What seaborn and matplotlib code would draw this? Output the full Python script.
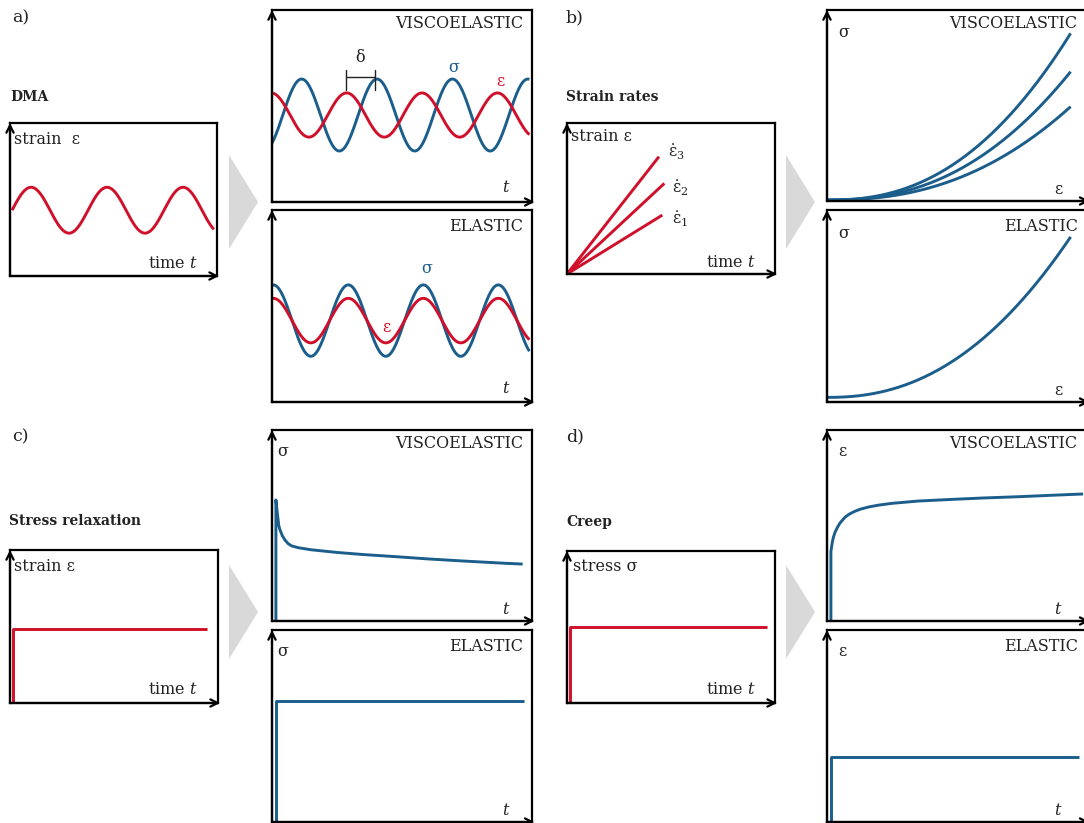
import numpy as np
import pandas as pd
import matplotlib
matplotlib.use("Agg")
import matplotlib.pyplot as plt
import seaborn as sns

sns.set_theme(style="white")
plt.rcParams['font.family'] = ['DejaVu Serif', 'DejaVu Sans']
plt.rcParams['mathtext.fontset'] = 'dejavuserif'

RED = '#d0102a'
BLUE = '#1b5e8c'
GRAY = '#d9d9d9'
W, H = 1084, 823

# ---------------- data (normalised 0..1 inside each box) ----------------
# a) DMA input strain (sinusoid)
dma_in_center, dma_in_amp, dma_in_period, dma_in_start, dma_in_end = 0.43, 0.15, 0.367, 0.01, 0.985
# a) viscoelastic response: [center, amplitude, period, first peak]
visco_sigma = [0.453, 0.1875, 0.29, 0.114]
visco_eps = [0.453, 0.115, 0.29, 0.287]
# a) elastic response (in phase)
elastic_sigma = [0.424, 0.186, 0.2885, 0.005]
elastic_eps = [0.424, 0.116, 0.2885, 0.005]
sine_x_end = 0.99

# b) strain rate lines: end points
rate_labels = ['1', '2', '3']
rate_x_end = [0.458, 0.468, 0.442]
rate_y_end = [0.39, 0.60, 0.777]
# b) stress-strain curves: end heights and curvature exponent
ss_visco_end = [0.494, 0.677, 0.878]
ss_elastic_end = [0.86]
ss_x_end = 0.937
ss_y_start = [0.005, 0.024]
ss_exponent = 2.35

# c) stress relaxation
relax_step_x = [0.013, 0.013, 0.946]
relax_step_y = [0.0, 0.484, 0.484]
relax_visco_x = [0.015, 0.015, 0.02, 0.026, 0.031, 0.04, 0.05, 0.062, 0.076, 0.1, 0.15, 0.25,
                 0.35, 0.485, 0.6, 0.75, 0.9, 0.964]
relax_visco_y = [0.0, 0.634, 0.57, 0.5, 0.476, 0.446, 0.424, 0.405, 0.393, 0.384, 0.373, 0.359,
                 0.348, 0.336, 0.325, 0.313, 0.302, 0.298]
relax_elastic_x = [0.015, 0.015, 0.969]
relax_elastic_y = [0.0, 0.63, 0.63]

# d) creep
creep_step_x = [0.015, 0.015, 0.96]
creep_step_y = [0.0, 0.498, 0.498]
creep_visco_x = [0.015, 0.015, 0.02, 0.025, 0.031, 0.04, 0.05, 0.069, 0.085, 0.105, 0.127, 0.16,
                 0.2, 0.25, 0.35, 0.485, 0.6, 0.742, 0.86, 0.985]
creep_visco_y = [0.0, 0.363, 0.41, 0.44, 0.465, 0.49, 0.513, 0.543, 0.559, 0.573, 0.585, 0.597,
                 0.607, 0.616, 0.628, 0.637, 0.644, 0.651, 0.658, 0.665]
creep_elastic_x = [0.015, 0.015, 0.97]
creep_elastic_y = [0.0, 0.34, 0.34]

# ---------------- helpers ----------------
fig = plt.figure(figsize=(W / 100, H / 100), dpi=100)


def box(l, t, r, b):
    ax = fig.add_axes([l / W, 1 - b / H, (r - l) / W, (b - t) / H])
    ax.set_facecolor('none')
    for s in ax.spines.values():
        s.set_visible(True)
        s.set_color('black')
        s.set_linewidth(1.6)
    ax.set_xticks([])
    ax.set_yticks([])
    ax.annotate('', xy=(0, 1.0), xytext=(0, 0.0), xycoords='axes fraction',
                arrowprops=dict(arrowstyle='->', lw=1.6, color='black', mutation_scale=13,
                                shrinkA=0, shrinkB=0), annotation_clip=False)
    ax.annotate('', xy=(1.01, 0), xytext=(0, 0), xycoords='axes fraction',
                arrowprops=dict(arrowstyle='->', lw=1.6, color='black', mutation_scale=13,
                                shrinkA=0, shrinkB=0), annotation_clip=False)
    return ax


def finish(ax):
    ax.set_xlim(0, 1)
    ax.set_ylim(0, 1)
    ax.set_xlabel('')
    ax.set_ylabel('')
    leg = ax.get_legend()
    if leg is not None:
        leg.remove()


def line(ax, x, y, color, lw=2.1):
    df = pd.DataFrame({'x': x, 'y': y})
    sns.lineplot(data=df, x='x', y='y', sort=False, estimator=None, color=color,
                 lw=lw, ax=ax, solid_capstyle='butt', solid_joinstyle='round')


def sine(params, x0, x1):
    c, a, p, ph = params
    x = np.linspace(x0, x1, 400)
    return x, c + a * np.cos(2 * np.pi * (x - ph) / p)


def arrow_tri(l, t, r, b):
    ax = fig.add_axes([l / W, 1 - b / H, (r - l) / W, (b - t) / H])
    ax.fill([0, 1, 0], [0, 0.5, 1], color=GRAY, lw=0)
    ax.set_xlim(0, 1)
    ax.set_ylim(0, 1)
    ax.axis('off')


def label(ax, x, y, s, color='#222222', ha='left', size=11.5, **kw):
    ax.text(x, y, s, transform=ax.transAxes, ha=ha, va='center', color=color,
            fontsize=size, **kw)


TS = 11.5
# ---------------- panel labels and titles ----------------
for s, x, y in [('a)', 12, 18), ('b)', 566, 18), ('c)', 12, 437), ('d)', 566, 437)]:
    fig.text(x / W, 1 - y / H, s, fontsize=12.5, va='center', ha='left', color='#222222')
for s, x, y in [('DMA', 10, 97), ('Strain rates', 566, 97), ('Stress relaxation', 9, 521), ('Creep', 566, 522)]:
    fig.text(x / W, 1 - y / H, s, fontsize=10, fontweight='bold', va='center', ha='left',
             color='#222222')

# ---------------- a) DMA ----------------
ax = box(10, 123, 217, 276)
xa = np.linspace(dma_in_start, dma_in_end, 400)
line(ax, xa, dma_in_center + dma_in_amp * np.sin(2 * np.pi * (xa - dma_in_start) / dma_in_period), RED)
finish(ax)
label(ax, 0.02, 0.889, 'strain  ε', size=TS)
label(ax, 0.905, 0.083, 'time $t$', ha='right', size=TS)

ax = box(272, 10, 532, 202)
x, y = sine(visco_sigma, 0.0, sine_x_end)
line(ax, x, y, BLUE)
x, y = sine(visco_eps, 0.0, sine_x_end)
line(ax, x, y, RED)
finish(ax)
ax.plot([0.283, 0.396], [0.653, 0.653], color='#222222', lw=1.0)
ax.plot([0.283, 0.283], [0.583, 0.69], color='#222222', lw=1.0)
ax.plot([0.396, 0.396], [0.583, 0.69], color='#222222', lw=1.0)
label(ax, 0.34, 0.755, 'δ', ha='center', size=TS)
label(ax, 0.70, 0.70, 'σ', color=BLUE, ha='center', size=TS)
label(ax, 0.877, 0.63, 'ε', color=RED, ha='center', size=TS)
label(ax, 0.965, 0.93, 'VISCOELASTIC', ha='right', size=TS)
label(ax, 0.902, 0.075, '$t$', ha='center', size=TS)

ax = box(272, 210, 532, 402)
x, y = sine(elastic_sigma, 0.0, sine_x_end)
line(ax, x, y, BLUE)
x, y = sine(elastic_eps, 0.0, sine_x_end)
line(ax, x, y, RED)
finish(ax)
label(ax, 0.595, 0.696, 'σ', color=BLUE, ha='center', size=TS)
label(ax, 0.441, 0.387, 'ε', color=RED, ha='center', size=TS)
label(ax, 0.965, 0.915, 'ELASTIC', ha='right', size=TS)
label(ax, 0.902, 0.07, '$t$', ha='center', size=TS)

arrow_tri(229, 155, 258, 249)

# ---------------- b) strain rates ----------------
ax = box(567, 123, 775, 274)
for lab, xe, ye in zip(rate_labels, rate_x_end, rate_y_end):
    line(ax, [0, xe], [0, ye], RED)
finish(ax)
for lab, xl, yl in zip(rate_labels, [0.505, 0.505, 0.486], [0.36, 0.57, 0.81]):
    label(ax, xl, yl, r'$\dot{\mathrm{ε}}_{%s}$' % lab, size=TS)
label(ax, 0.02, 0.909, 'strain ε', size=TS)
label(ax, 0.905, 0.075, 'time $t$', ha='right', size=TS)

ax = box(827, 10, 1087, 201)
xs = np.linspace(0, ss_x_end, 300)
for ye in ss_visco_end:
    line(ax, xs, ss_y_start[0] + (ye - ss_y_start[0]) * (xs / ss_x_end) ** ss_exponent, BLUE)
finish(ax)
label(ax, 0.042, 0.88, 'σ', size=TS)
label(ax, 0.888, 0.06, 'ε', size=TS, ha='center')
label(ax, 0.964, 0.93, 'VISCOELASTIC', ha='right', size=TS)

ax = box(827, 210, 1087, 402)
for ye in ss_elastic_end:
    line(ax, xs, ss_y_start[1] + (ye - ss_y_start[1]) * (xs / ss_x_end) ** (ss_exponent - 0.1), BLUE)
finish(ax)
label(ax, 0.042, 0.88, 'σ', size=TS)
label(ax, 0.888, 0.06, 'ε', size=TS, ha='center')
label(ax, 0.964, 0.915, 'ELASTIC', ha='right', size=TS)

arrow_tri(786, 155, 815, 249)

# ---------------- c) stress relaxation ----------------
ax = box(10, 550, 218, 703)
line(ax, relax_step_x, relax_step_y, RED)
finish(ax)
label(ax, 0.02, 0.893, 'strain ε', size=TS)
label(ax, 0.902, 0.087, 'time $t$', ha='right', size=TS)

ax = box(272, 430, 532, 621)
line(ax, relax_visco_x, relax_visco_y, BLUE)
finish(ax)
label(ax, 0.02, 0.886, 'σ', size=TS)
label(ax, 0.902, 0.06, '$t$', ha='center', size=TS)
label(ax, 0.965, 0.93, 'VISCOELASTIC', ha='right', size=TS)

ax = box(272, 630, 532, 822)
line(ax, relax_elastic_x, relax_elastic_y, BLUE)
finish(ax)
label(ax, 0.02, 0.89, 'σ', size=TS)
label(ax, 0.902, 0.06, '$t$', ha='center', size=TS)
label(ax, 0.965, 0.915, 'ELASTIC', ha='right', size=TS)

arrow_tri(229, 565, 258, 659)

# ---------------- d) creep ----------------
ax = box(567, 551, 775, 703)
line(ax, creep_step_x, creep_step_y, RED)
finish(ax)
label(ax, 0.03, 0.895, 'stress σ', size=TS)
label(ax, 0.905, 0.087, 'time $t$', ha='right', size=TS)

ax = box(827, 430, 1087, 621)
line(ax, creep_visco_x, creep_visco_y, BLUE)
finish(ax)
label(ax, 0.042, 0.886, 'ε', size=TS)
label(ax, 0.888, 0.06, '$t$', ha='center', size=TS)
label(ax, 0.964, 0.93, 'VISCOELASTIC', ha='right', size=TS)

ax = box(827, 630, 1087, 822)
line(ax, creep_elastic_x, creep_elastic_y, BLUE)
finish(ax)
label(ax, 0.042, 0.89, 'ε', size=TS)
label(ax, 0.888, 0.06, '$t$', ha='center', size=TS)
label(ax, 0.964, 0.915, 'ELASTIC', ha='right', size=TS)

arrow_tri(786, 565, 815, 659)

fig.savefig('out.png', dpi=100)
